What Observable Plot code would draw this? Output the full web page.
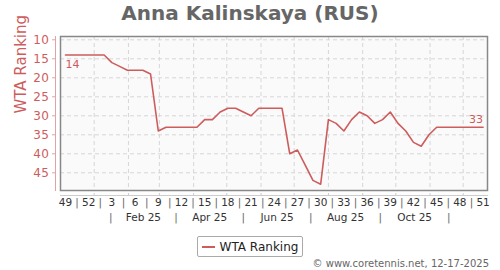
<!DOCTYPE html>
<html><head><meta charset="utf-8">
<script src="https://cdn.jsdelivr.net/npm/d3@7"></script>
<script src="https://cdn.jsdelivr.net/npm/@observablehq/plot@0.6"></script>
<style>
body{margin:0;background:#fff;width:500px;height:270px;overflow:hidden;font-family:"DejaVu Sans",sans-serif;}
#title{height:26px;line-height:26px;text-align:center;font-weight:bold;font-size:20px;color:#666;}
#legend{margin-top:6px;height:21px;display:flex;justify-content:center;}
#legend .box{border:1px solid #aaa;border-radius:2px;display:flex;align-items:center;padding:0 4px;font-size:12px;color:#222;box-sizing:border-box;height:21px;}
#legend .swatch{width:13px;height:0;border-top:2px solid #cd5c5c;margin-right:5px;}
#footer{height:14px;line-height:14px;font-size:10px;color:#666;text-align:right;padding-right:11px;}
#chart g[aria-label="y-axis tick label"] text{letter-spacing:0.5px;}
</style></head>
<body>
<div id="title"></div>
<div id="chart"></div>
<div id="legend"><div class="box"><span class="swatch"></span><span id="legtext"></span></div></div>
<div id="footer"></div>
<script>
const titleText = "Anna Kalinskaya (RUS)";
const seriesName = "WTA Ranking";
const footerText = "© www.coretennis.net, 12-17-2025";
const firstWeek = "2024-12-06";
const ranking = [14,14,14,14,14,14,16,17,18,18,18,19,34,33,33,33,33,33,31,31,29,28,28,29,30,28,28,28,28,40,39,43,47,48,31,32,34,31,29,30,32,31,29,32,34,37,38,35,33,33,33,33,33,33,33];
const weekLabels = ["49","52","3","6","9","12","15","18","21","24","27","30","33","36","39","42","45","48","51"];
const monthLabels = ["Feb 25","Apr 25","Jun 25","Aug 25","Oct 25"];
const monthSeps = ["2025-01-16","2025-03-16","2025-05-16","2025-07-16","2025-09-17","2025-11-18"];
const gridMonths = ["2025-01-01","2025-02-01","2025-03-01","2025-04-01","2025-05-01","2025-06-01","2025-07-01","2025-08-01","2025-09-01","2025-10-01","2025-11-01","2025-12-01"];
const yTicks = [10,15,20,25,30,35,40,45];

document.getElementById("title").textContent = titleText;
document.getElementById("legtext").textContent = seriesName;
document.getElementById("footer").textContent = footerText;

const DAY = 864e5;
const utc = s => new Date(s + "T00:00:00Z");
const t0 = utc(firstWeek);
const data = ranking.map((r, i) => ({date: new Date(+t0 + i * 7 * DAY), rank: r}));
const weekTicks = weekLabels.map((l, k) => ({date: data[k * 3].date, label: l}));
const weekSeps = weekTicks.slice(1).map((d, k) => new Date((+weekTicks[k].date + +d.date) / 2));
const sepDates = monthSeps.map(utc);
const monthTicks = monthLabels.map((l, k) => ({date: new Date((+sepDates[k] + +sepDates[k + 1]) / 2), label: l}));
const grid = gridMonths.map(utc);

const red = "#cd5c5c";
const pink = "#e3a3a3";
const chart = Plot.plot({
  width: 500, height: 204,
  marginTop: 10, marginBottom: 40, marginLeft: 60, marginRight: 13,
  style: {fontFamily: "DejaVu Sans", fontSize: "10.5px", background: "white", overflow: "visible"},
  x: {type: "utc", domain: [new Date("2024-12-01T12:00:00Z"), new Date("2025-12-23T00:00:00Z")], axis: null},
  y: {domain: [9.13, 49.66], reverse: true, axis: null},
  marks: [
    Plot.frame({fill: "#fafafa"}),
    Plot.gridY(yTicks, {stroke: "#d6d6d6", strokeOpacity: 1, strokeDasharray: "4,3"}),
    Plot.gridX(grid, {stroke: "#d6d6d6", strokeOpacity: 1, strokeDasharray: "4,3"}),
    Plot.frame({stroke: "#888", strokeWidth: 1.5}),
    Plot.frame({anchor: "left", insetLeft: -5, stroke: pink}),
    Plot.frame({anchor: "bottom", insetBottom: -5, stroke: "#ccc"}),
    Plot.tickX(grid, {x: d => d, insetTop: 157, insetBottom: -6, stroke: "#ccc"}),
    Plot.axisY(yTicks, {anchor: "left", tickSize: 3, dx: -5, tickPadding: 3, fill: red, stroke: pink, label: null, fontSize: 12}),
    Plot.text([seriesName], {text: d => d, frameAnchor: "left", rotate: -90, dx: -39, fill: red, fontSize: 15}),
    Plot.line(data, {x: "date", y: "rank", stroke: red, strokeWidth: 1.6}),
    Plot.text([data[0]], {x: "date", y: "rank", text: d => String(d.rank), textAnchor: "start", dy: 9, fill: red, fontSize: 11}),
    Plot.text([data[data.length - 1]], {x: "date", y: "rank", text: d => String(d.rank), textAnchor: "end", dy: -8, fill: red, fontSize: 11}),
    Plot.text(weekTicks, {x: "date", text: "label", frameAnchor: "bottom", dy: 15, fill: "#333"}),
    Plot.text(weekSeps, {x: d => d, text: () => "|", frameAnchor: "bottom", dy: 15, fill: "#666"}),
    Plot.text(monthTicks, {x: "date", text: "label", frameAnchor: "bottom", dy: 30.5, fill: "#333"}),
    Plot.text(sepDates, {x: d => d, text: () => "|", frameAnchor: "bottom", dy: 30.5, fill: "#666"})
  ]
});
document.getElementById("chart").appendChild(chart);
</script>
</body></html>
